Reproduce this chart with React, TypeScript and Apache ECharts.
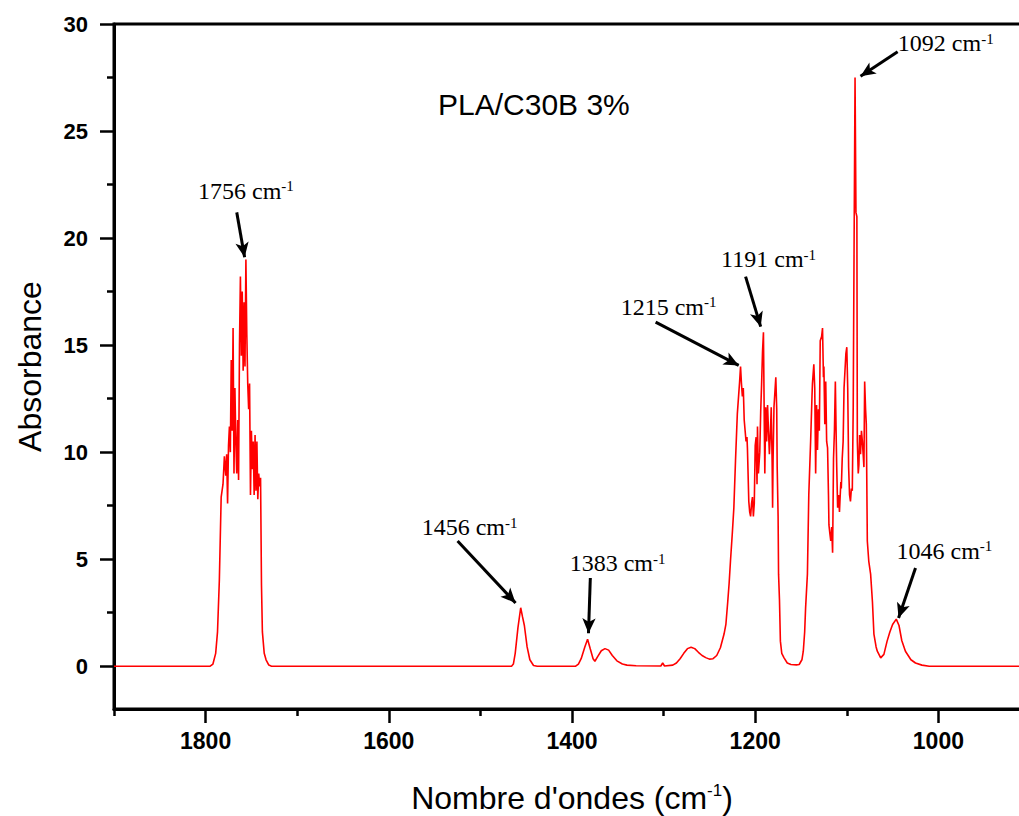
import React, { useEffect, useRef } from "react";
import * as echarts from "echarts";

// Spectrum (wavenumber in cm-1, absorbance)
const wavenumbers = [
  1900, 1795, 1792, 1789, 1787, 1785, 1783, 1781, 1779.5, 1778, 1777, 1776, 1775, 1774, 1773, 1772, 1771, 1770, 1769,
  1768, 1767, 1766, 1765, 1764, 1763, 1762, 1761, 1760, 1759, 1758, 1757, 1756, 1755, 1754, 1753, 1752, 1751, 1750,
  1749, 1748, 1747, 1746, 1745, 1744, 1743, 1742, 1741, 1740, 1739, 1738, 1736, 1734, 1731, 1728,
  1466, 1464, 1462, 1459, 1456, 1454, 1452, 1449, 1446, 1442, 1438,
  1396, 1393, 1390, 1386, 1383, 1380, 1377, 1375, 1372, 1368, 1364, 1360, 1356, 1351, 1345, 1340, 1330, 1303, 1301,
  1299, 1290, 1286, 1282, 1278, 1274, 1270, 1266, 1262, 1258, 1254, 1250, 1246, 1242, 1238, 1234, 1232, 1230, 1228.5,
  1227, 1225, 1223.3, 1221.5, 1219.5, 1218, 1217, 1216, 1215, 1214, 1213, 1212, 1211, 1210, 1209, 1208.5, 1207, 1206,
  1205, 1204, 1203, 1202, 1201, 1200, 1199, 1198, 1197.5, 1196.5, 1195, 1194, 1193, 1192, 1191, 1190, 1189.5, 1188.5,
  1187.5, 1186.5, 1185.5, 1184.5, 1183.5, 1182.5, 1181.5, 1181, 1180.5, 1179.5, 1178.5, 1177.5, 1176.5, 1176, 1175,
  1174.5, 1173.5, 1172.5, 1171, 1168.5, 1165, 1161, 1155, 1152, 1149, 1147.5, 1146, 1145, 1143, 1141.5, 1139.5, 1138,
  1137.5, 1136, 1135, 1134, 1133, 1132, 1131, 1130, 1129, 1127.5, 1126.5, 1125.5, 1125, 1124, 1123, 1122, 1121, 1120,
  1119.5, 1118.5, 1117.5, 1116.5, 1115.5, 1114.5, 1113.5, 1112.5, 1111.5, 1111, 1110, 1109, 1108, 1107.5, 1106.5, 1106,
  1105, 1104, 1103, 1102, 1101, 1100, 1099, 1098, 1097, 1096, 1095, 1094, 1093, 1092, 1091, 1090, 1089, 1088.5, 1087.5,
  1086.8, 1086, 1085, 1084, 1083, 1082, 1081.3, 1080.5, 1079.5, 1078.7, 1077.6, 1076, 1074, 1072, 1070.4, 1068, 1066.7,
  1063, 1059.5, 1056, 1053, 1050, 1046, 1043, 1040, 1036, 1030, 1025, 1018, 1010, 900,
];
const absorbance = [
  0, 0, 0.1, 0.6, 1.6, 4.0, 7.9, 8.5, 9.8, 8.9, 9.9, 7.6, 10.3, 11.2, 10.0, 14.3, 11.0, 15.8, 9.0,
  13.0, 10.5, 9.0, 11.5, 8.7, 15.0, 18.2, 14.5, 17.5, 13.8, 17.0, 14.0, 19.0, 15.5, 13.2, 12.0, 13.2, 8.0, 11.0,
  9.2, 10.5, 8.0, 10.8, 8.2, 10.5, 7.8, 9.0, 8.4, 8.8, 3.8, 1.6, 0.6, 0.3, 0.05, 0,
  0, 0.1, 0.6, 1.8, 2.73, 2.3, 1.9, 0.9, 0.3, 0.03, 0,
  0, 0.1, 0.35, 0.9, 1.26, 0.8, 0.35, 0.23, 0.45, 0.72, 0.82, 0.75, 0.5, 0.25, 0.1, 0.05, 0.02, 0.01, 0.15,
  0.01, 0.05, 0.15, 0.35, 0.6, 0.82, 0.89, 0.82, 0.65, 0.5, 0.4, 0.33, 0.35, 0.5, 0.86, 1.5, 1.95, 3.0, 3.85,
  4.9, 6.2, 7.4, 9.6, 11.8, 12.7, 13.3, 14.0, 13.2, 12.6, 13.0, 11.5, 11.0, 10.5, 10.7, 10.2, 7.7, 7.2,
  7.0, 7.6, 7.9, 7.0, 7.6, 10.3, 10.7, 8.5, 11.2, 9.0, 10.0, 11.9, 13.2, 14.7, 15.6, 11.0, 9.0, 12.1,
  10.5, 12.2, 11.0, 9.9, 10.8, 12.1, 9.5, 7.4, 9.6, 12.1, 12.8, 13.5, 12.0, 9.3, 7.0,
  4.3, 3.1, 1.17, 0.6, 0.39, 0.15, 0.08, 0.06, 0.08, 0.3, 0.7, 1.6, 2.7, 4.3, 8.0, 10.5, 12.6,
  13.2, 14.1, 13.0, 9.0, 12.2, 10.1, 12.0, 11.0, 15.2, 15.4, 15.8, 13.5, 14.0, 11.3, 13.3, 10.5, 10.2, 8.0,
  6.6, 6.2, 5.85, 6.5, 5.3, 9.7, 11.0, 13.3, 10.5, 9.3, 7.4, 8.0, 7.2, 7.7, 8.6, 8.3,
  9.7, 10.5, 13.0, 13.8, 14.6, 14.9, 13.0, 9.3, 8.0, 7.7, 8.3, 8.2, 12.1, 20.0, 27.5, 21.2, 21.0, 10.5, 9.0,
  9.4, 10.8, 9.9, 11.0, 10.5, 9.8, 9.3, 13.3, 12.0, 11.3, 5.85, 4.9, 4.3, 3.0, 1.5, 0.9, 0.7,
  0.39, 0.55, 1.17, 1.6, 1.95, 2.2, 1.9, 1.2, 0.7, 0.3, 0.15, 0.05, 0, 0,
];

// Axis ticks
const xMajorTicks = [1000, 1200, 1400, 1600, 1800];
const xMinorTicks = [1100, 1300, 1500, 1700, 1900];
const yMajorTicks = [0, 5, 10, 15, 20, 25, 30];
const yMinorTicks = [2.5, 7.5, 12.5, 17.5, 22.5, 27.5];

// Peak annotations (data coordinates)
const peakNames = ["1756", "1092", "1191", "1215", "1456", "1383", "1046"];
const peakLabelAt: number[][] = [
  [1756, 22.2], [992, 29.1], [1185.4, 19.0], [1294.6, 16.8], [1511.8, 6.5], [1350.2, 4.8], [993.4, 5.4],
];
const arrowFrom: number[][] = [
  [1766, 21.2], [1044.5, 28.7], [1210.5, 18.2], [1308.7, 16.07], [1524.9, 5.85], [1380, 4.12], [1025, 4.59],
];
const arrowTo: number[][] = [
  [1757.4, 19.1], [1085, 27.56], [1194, 15.86], [1218, 14.05], [1461.6, 2.95], [1382, 1.54], [1043.5, 2.25],
];

const SANS = "'Liberation Sans', Arial, sans-serif";
const SERIF = "'Liberation Serif', 'Times New Roman', serif";

export default function App() {
  const ref = useRef<HTMLDivElement>(null);

  useEffect(() => {
    if (!ref.current) return;
    const chart = echarts.init(ref.current, undefined, { renderer: "svg" });
    const data = wavenumbers.map((w, i) => [w, absorbance[i]]);

    const baseX = {
      type: "value" as const,
      inverse: true,
      min: 900,
      max: 1900,
      position: "bottom" as const,
      splitLine: { show: false },
    };
    const baseY = {
      type: "value" as const,
      min: -2,
      max: 30,
      position: "left" as const,
      splitLine: { show: false },
    };

    chart.setOption({
      animation: false,
      backgroundColor: "#ffffff",
      title: {
        text: "PLA/C30B 3%",
        left: 433,
        top: 84,
        textStyle: { fontFamily: SANS, fontSize: 30, fontWeight: "normal", color: "#000" },
      },
      grid: {
        left: 114,
        right: 0,
        top: 24,
        bottom: 107,
        show: true,
        borderColor: "#000",
        borderWidth: 3,
        backgroundColor: "transparent",
        outerBoundsMode: "none",
      },
      xAxis: [
        {
          ...baseX,
          axisLine: { show: true, onZero: false, lineStyle: { color: "#000", width: 3 } },
          axisTick: { show: true, customValues: xMajorTicks, length: 14, lineStyle: { color: "#000", width: 2.5 } },
          axisLabel: {
            show: true,
            customValues: xMajorTicks,
            formatter: (v: number) => String(v),
            margin: 20,
            color: "#000",
            fontFamily: SANS,
            fontWeight: "bold",
            fontSize: 23,
          },
          name: "Nombre d'ondes (cm{s|-1})",
          nameLocation: "middle",
          nameGap: 73,
          nameTextStyle: {
            fontFamily: SANS,
            fontSize: 32,
            color: "#000",
            rich: { s: { fontFamily: SANS, fontSize: 17, color: "#000", verticalAlign: "top" } },
          },
        },
        {
          ...baseX,
          axisLine: { show: false, onZero: false },
          axisTick: { show: true, customValues: xMinorTicks, length: 7, lineStyle: { color: "#000", width: 2.5 } },
          axisLabel: { show: false },
        },
      ],
      yAxis: [
        {
          ...baseY,
          axisLine: { show: true, onZero: false, lineStyle: { color: "#000", width: 3 } },
          axisTick: { show: true, customValues: yMajorTicks, length: 14, lineStyle: { color: "#000", width: 2.5 } },
          axisLabel: {
            show: true,
            customValues: yMajorTicks,
            formatter: (v: number) => String(v),
            margin: 26,
            color: "#000",
            fontFamily: SANS,
            fontWeight: "bold",
            fontSize: 22,
          },
          name: "Absorbance",
          nameLocation: "middle",
          nameGap: 68,
          nameTextStyle: { fontFamily: SANS, fontSize: 32, color: "#000" },
        },
        {
          ...baseY,
          axisLine: { show: false, onZero: false },
          axisTick: { show: true, customValues: yMinorTicks, length: 7, lineStyle: { color: "#000", width: 2.5 } },
          axisLabel: { show: false },
        },
      ],
      series: [
        {
          type: "line",
          xAxisIndex: 0,
          yAxisIndex: 0,
          data,
          showSymbol: false,
          symbol: "none",
          lineStyle: { color: "#ff0000", width: 1.6 },
          itemStyle: { color: "#ff0000" },
          silent: true,
          markLine: {
            silent: true,
            symbol: ["none", "arrow"],
            symbolSize: [10, 15],
            label: { show: false },
            lineStyle: { color: "#000", width: 3, type: "solid" },
            emphasis: { disabled: true },
            data: arrowFrom.map((f, i) => [{ coord: f }, { coord: arrowTo[i] }]),
          },
          markPoint: {
            silent: true,
            symbol: "rect",
            symbolSize: 1,
            itemStyle: { color: "transparent" },
            label: {
              show: true,
              position: "inside",
              formatter: (p: any) => `{n|${p.name} cm}{s|-1}`,
              rich: {
                n: { fontFamily: SERIF, fontSize: 24, color: "#000" },
                s: { fontFamily: SERIF, fontSize: 15, color: "#000", verticalAlign: "top" },
              },
            },
            data: peakNames.map((n, i) => ({ name: n, coord: peakLabelAt[i] })),
          },
        },
      ],
    });

    return () => chart.dispose();
  }, []);

  return (
    <div
      style={{
        position: "fixed",
        left: 0,
        top: 0,
        width: 1019,
        height: 816,
        overflow: "hidden",
        background: "#fff",
      }}
    >
      <div ref={ref} style={{ width: 1030, height: 816 }} />
    </div>
  );
}
